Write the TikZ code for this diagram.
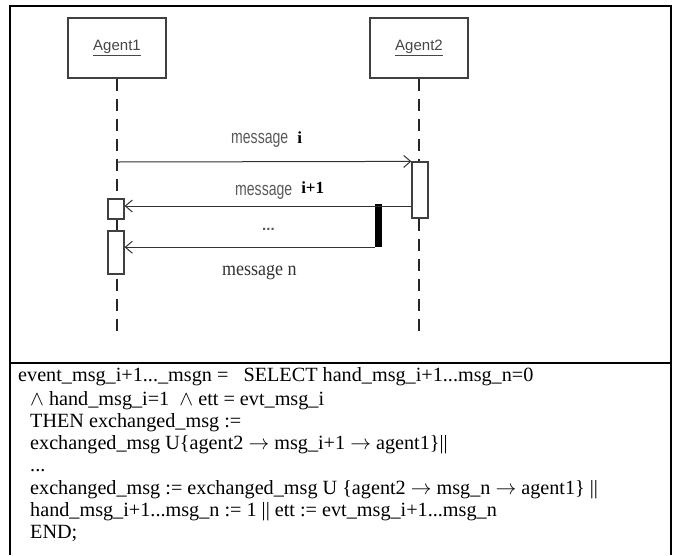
\documentclass[tikz,border=0pt]{standalone}
\usepackage{fontspec}
\usepackage{graphicx}
\setmainfont{Liberation Serif}
\newfontfamily\diagsans{Liberation Sans}
\usetikzlibrary{arrows.meta}

\tikzset{
  frame/.style={draw=black, line width=1.4pt},
  agentbox/.style={draw=black!75, line width=1.3pt, fill=white,
    minimum width=98pt, minimum height=60pt, inner sep=0pt,
    font=\diagsans\fontsize{15}{16}\selectfont, text=black!72},
  lifeline/.style={draw=black!85, line width=2.6pt, dash pattern=on 12pt off 8pt},
  actbox/.style={draw=black!75, line width=1.2pt, fill=white,
    minimum width=16pt, inner sep=0pt},
  bar/.style={fill=black, draw=none, minimum width=7pt, inner sep=0pt},
  msg/.style={draw=black!80, line width=1pt, -{Straight Barb[length=7pt,width=12pt]}},
  msglabel/.style={anchor=base west, inner sep=0pt, text=black!65},
  codeline/.style={anchor=base west, inner sep=0pt,
    font=\fontsize{20.2}{22}\selectfont}
}
\newcommand{\msgword}{{\diagsans\fontsize{19}{21}\selectfont\scalebox{0.74}[1]{message}}}

\begin{document}
\begin{tikzpicture}[x=1pt, y=-1pt]
\useasboundingbox (0,0) rectangle (677,555);

% outer frame and divider
\draw[frame] (10,555) -- (10,6) -- (671,6) -- (671,555);
\draw[frame] (10,363) -- (671,363);

% agents
\node[agentbox] (ag1) at (117,48) {\underline{Agent1}};
\node[agentbox] (ag2) at (419,48) {\underline{Agent2}};

% lifelines
\coordinate (lend) at (0,333);
\draw[lifeline] (ag1.south) -- (ag1.south |- lend);
\draw[lifeline] (ag2.south) -- (ag2.south |- lend);

% activations
\node[actbox, minimum height=56pt] (act2) at (420,190) {};
\node[actbox, minimum height=20pt] (s1) at (116,209) {};
\node[actbox, minimum height=43pt] (s2) at (116,252.5) {};
\node[bar, minimum height=43pt] (bar) at (378.5,225.5) {};

% messages
\coordinate (m1) at (117,162);
\coordinate (m2) at (0,206);
\draw[msg] (m1) -- (act2.north west);
\draw[msg] (act2.west |- m2) -- (s1.east |- m2);
\draw[msg] (bar.south west) -- (s2.east |- bar.south);

% message labels
\node[msglabel] (l1) at (231,143) {\msgword\hspace{9pt}{\color{black}\fontsize{17}{19}\selectfont\bfseries i}};
\node[msglabel] (l2) at (235,195) {\msgword\hspace{9pt}\raisebox{2pt}{\color{black}\fontsize{17}{19}\selectfont\bfseries i+1}};
\node[msglabel, font=\diagsans\fontsize{15}{16}\selectfont\bfseries] (l3) at (262,230) {...};
\node[msglabel, text=black!80] (l4) at (222,275) {\fontsize{20}{22}\selectfont\scalebox{0.9}[1]{message n}};

% B event text
\node[codeline] (c1) at (18,381.5) {event\_msg\_i+1...\_msgn = \ \ SELECT hand\_msg\_i+1...msg\_n=0};
\node[codeline] (c2) at (30,405.5) {$\wedge$ hand\_msg\_i=1 \ $\wedge$ ett = evt\_msg\_i};
\node[codeline] (c3) at (30,427.6) {THEN exchanged\_msg :=};
\node[codeline] (c4) at (30,449.7) {exchanged\_msg U\{agent2 $\rightarrow$ msg\_i+1 $\rightarrow$ agent1\}||};
\node[codeline] (c5) at (30,471.8) {...};
\node[codeline] (c6) at (30,494) {exchanged\_msg := exchanged\_msg U \{agent2 $\rightarrow$ msg\_n $\rightarrow$ agent1\} ||};
\node[codeline] (c7) at (30,516.2) {hand\_msg\_i+1...msg\_n := 1 || ett := evt\_msg\_i+1...msg\_n};
\node[codeline] (c8) at (30,538.4) {END;};
\end{tikzpicture}
\end{document}
